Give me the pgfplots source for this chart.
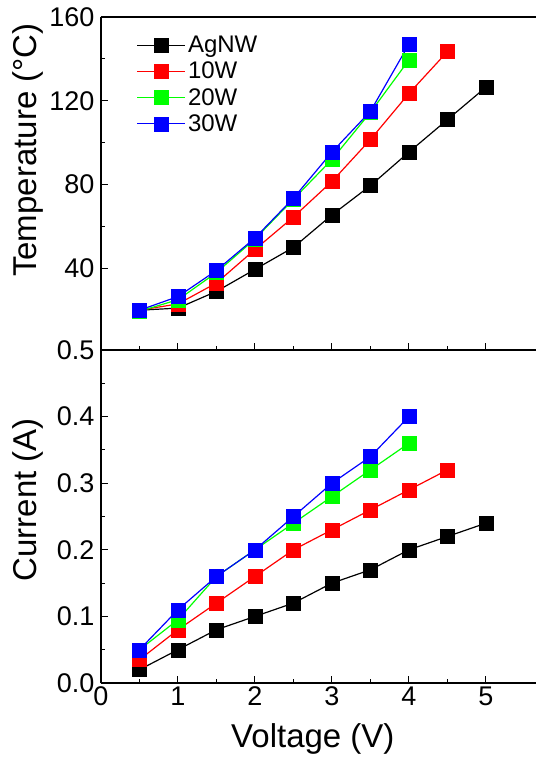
\documentclass[border=0pt]{standalone}
\usepackage{fontspec}
\setmainfont{Liberation Sans}
\usepackage{pgfplots}
\pgfplotsset{compat=1.18}

\pgfplotsset{
  panel/.style={
    scale only axis, width=435pt, height=333pt,
    xmin=0, xmax=5.65,
    axis x line*=box, axis y line*=left,
    axis line style={-, line width=1.3pt},
    xtick={0,1,...,5}, minor x tick num=1, minor y tick num=1,
    xtick pos=bottom, ytick pos=left, tick align=inside,
    major tick length=7pt, minor tick length=4pt,
    every tick/.style={black, line width=1pt},
    tick label style={font=\fontsize{27}{32}\selectfont},
    yticklabel style={xshift=-3pt},
    label style={font=\fontsize{33}{40}\selectfont},
    /pgf/number format/assume math mode=true,
    clip=false,
  },
  sq/.style={#1, line width=1.2pt, mark=square*, mark size=7pt,
    mark options={solid, fill=#1, draw=#1, line width=0.4pt}},
}

\begin{document}
\begin{tikzpicture}[x=1pt,y=1pt]
% top panel: temperature
\begin{axis}[panel, at={(0,333pt)}, anchor=south west,
    ymin=1, ymax=160, ytick={40,80,120,160},
    xticklabels={},
    ylabel={Temperature (°C)},
    ylabel style={at={(rel axis cs:0,0.6)}, anchor=center, yshift=73pt},
    legend style={draw=none, fill=none, at={(0.075,0.955)}, anchor=north west,
      font=\fontsize{24}{28}\selectfont, row sep=4pt},
    legend cell align=left,
    legend image code/.code={
      \draw[mark repeat=2, mark phase=2] plot coordinates {(0pt,0pt) (24pt,0pt) (48pt,0pt)};},
]
\addplot[sq=black] coordinates {(0.5,20) (1,21) (1.5,29) (2,39.5) (2.5,50) (3,65.5) (3.5,79.5) (4,95.5) (4.5,111) (5,126.5)};
\addlegendentry{AgNW}
\addplot[sq=red] coordinates {(0.5,20) (1,23) (1.5,33) (2,49) (2.5,64.5) (3,81.5) (3.5,101.5) (4,123.5) (4.5,143.5)};
\addlegendentry{10W}
\addplot[sq=green] coordinates {(0.5,19.5) (1,25) (1.5,38) (2,54) (2.5,73) (3,92) (3.5,114.5) (4,139.5)};
\addlegendentry{20W}
\addplot[sq=blue] coordinates {(0.5,20) (1,26.5) (1.5,39) (2,54.5) (2.5,73.5) (3,95.5) (3.5,115) (4,147)};
\addlegendentry{30W}
\end{axis}
% bottom panel: current
\begin{axis}[panel, at={(0,0)}, anchor=south west,
    ymin=0, ymax=0.5, ytick={0,0.1,...,0.5},
    yticklabel style={/pgf/number format/.cd, fixed, fixed zerofill, precision=1},
    xlabel={Voltage (V)},
    xlabel style={at={(rel axis cs:0.487,0)}, anchor=center, yshift=-56pt},
    ylabel={Current (A)},
    ylabel style={at={(rel axis cs:0,0.55)}, anchor=center, yshift=73pt},
]
\addplot[sq=black] coordinates {(0.5,0.02) (1,0.05) (1.5,0.08) (2,0.10) (2.5,0.12) (3,0.15) (3.5,0.17) (4,0.20) (4.5,0.22) (5,0.24)};
\addplot[sq=red] coordinates {(0.5,0.035) (1,0.08) (1.5,0.12) (2,0.16) (2.5,0.20) (3,0.23) (3.5,0.26) (4,0.29) (4.5,0.32)};
\addplot[sq=green] coordinates {(0.5,0.05) (1,0.095) (1.5,0.16) (2,0.20) (2.5,0.24) (3,0.28) (3.5,0.32) (4,0.36)};
\addplot[sq=blue] coordinates {(0.5,0.05) (1,0.11) (1.5,0.16) (2,0.20) (2.5,0.25) (3,0.30) (3.5,0.34) (4,0.40)};
\end{axis}
\pgfresetboundingbox
\path (-101pt,-74pt) rectangle (435pt,683pt);
\end{tikzpicture}
\end{document}
